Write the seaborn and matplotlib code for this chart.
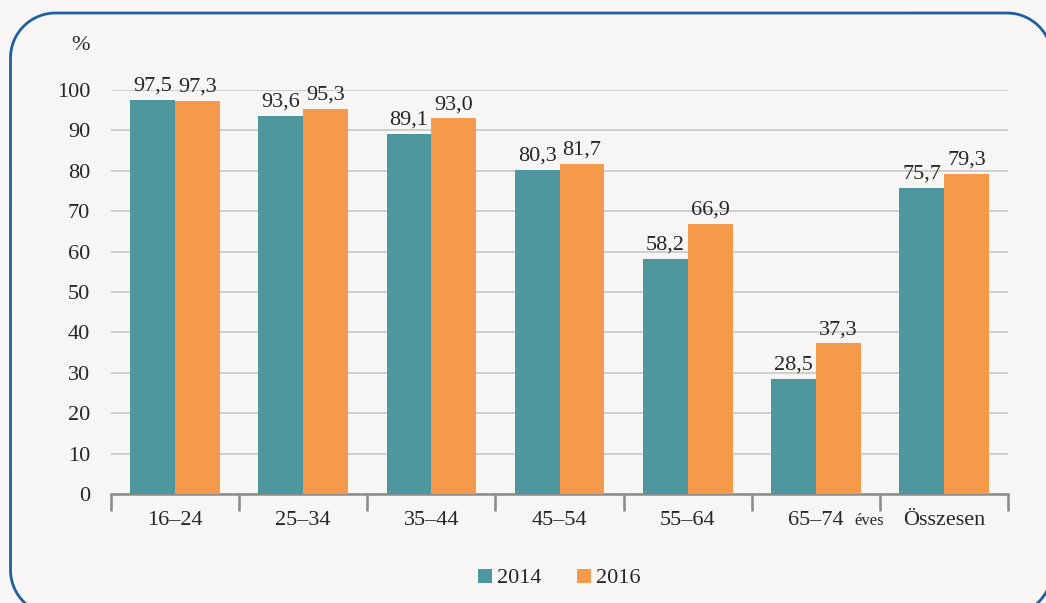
import matplotlib
matplotlib.use("Agg")
import matplotlib.pyplot as plt
import seaborn as sns
import pandas as pd
import numpy as np

# data
groups = ["16–24", "25–34", "35–44", "45–54", "55–64", "65–74", "Összesen"]
years = ["2014", "2016"]
v2014 = [97.5, 93.6, 89.1, 80.3, 58.2, 28.5, 75.7]
v2016 = [97.3, 95.3, 93.0, 81.7, 66.9, 37.3, 79.3]
yticks = list(range(0, 101, 10))

teal = "#4e979e"
orange = "#f5994a"
bg = "#f7f6f4"
txt = "#262626"
fs = 16

df = pd.DataFrame({
    "group": groups * 2,
    "year": [years[0]] * len(groups) + [years[1]] * len(groups),
    "value": v2014 + v2016,
})

sns.set_theme(style="white")
plt.rcParams["font.family"] = ["Liberation Serif", "DejaVu Serif"]

W, H = 1046, 603
fig = plt.figure(figsize=(W / 100, H / 100), dpi=100, facecolor=bg)

# background axes in pixel units for the rounded frame
bgax = fig.add_axes([0, 0, 1, 1], zorder=-1)
bgax.set_xlim(0, W)
bgax.set_ylim(0, H)
bgax.axis("off")


def rounded_rect(x0, y0, x1, y1, r, n=40):
    pts = []
    corners = [(x1 - r, y1 - r, 0), (x0 + r, y1 - r, 90),
               (x0 + r, y0 + r, 180), (x1 - r, y0 + r, 270)]
    for cx, cy, a0 in corners:
        t = np.radians(np.linspace(a0, a0 + 90, n))
        pts += list(zip(cx + r * np.cos(t), cy + r * np.sin(t)))
    pts.append(pts[0])
    return np.array(pts)


fr = rounded_rect(10.5, -12, 1052, 590, 45)
bgax.plot(fr[:, 0], fr[:, 1], color="#1f5f9f", lw=2, clip_on=False)

ax = fig.add_axes([0.1061, 0.1808, 0.8576, 0.67])
ax.set_facecolor(bg)

sns.barplot(data=df, x="group", y="value", hue="year", order=groups,
            hue_order=years, palette=[teal, orange], width=0.7,
            saturation=1, ax=ax, legend=True, zorder=3, linewidth=0,
            edgecolor="none")

for c in ax.containers:
    ax.bar_label(c, labels=[f"{v:.1f}".replace(".", ",") for v in c.datavalues],
                 padding=3, fontsize=fs, color=txt, clip_on=False)

ax.set_ylim(0, 100)
ax.set_xlim(-0.5, len(groups) - 0.5)
ax.set_yticks(yticks)
ax.yaxis.grid(True, color="#c4c4c4", lw=1.1, zorder=0)
ax.set_axisbelow(True)
for s in ["left", "right", "top"]:
    ax.spines[s].set_visible(False)
ax.spines["bottom"].set_color("#8a8a8a")
ax.spines["bottom"].set_linewidth(1.8)

ax.tick_params(axis="y", length=0, labelsize=fs, labelcolor=txt, pad=15)
ax.set_xticks([i - 0.5 for i in range(len(groups) + 1)], minor=True)
ax.tick_params(axis="x", which="major", bottom=True, length=0, labelsize=fs,
               labelcolor=txt, pad=12)
ax.tick_params(axis="x", which="minor", bottom=True, length=12, width=1.8,
               color="#8a8a8a")
ax.set_xlabel("")
ax.set_ylabel("")

ax.text(-0.024, 1.11, "%", transform=ax.transAxes, fontsize=fs,
        color=txt, ha="right", va="center")
ax.text(5.3, -6.7, "éves", fontsize=12, color=txt, ha="left", va="center")

leg = ax.legend(loc="upper center", bbox_to_anchor=(0.5, -0.135), ncol=2,
                frameon=False, fontsize=fs, handlelength=0.6,
                handleheight=0.6, handletextpad=0.25, columnspacing=1.6)
for t in leg.get_texts():
    t.set_color(txt)

fig.savefig("out.png", dpi=100, facecolor=bg)
